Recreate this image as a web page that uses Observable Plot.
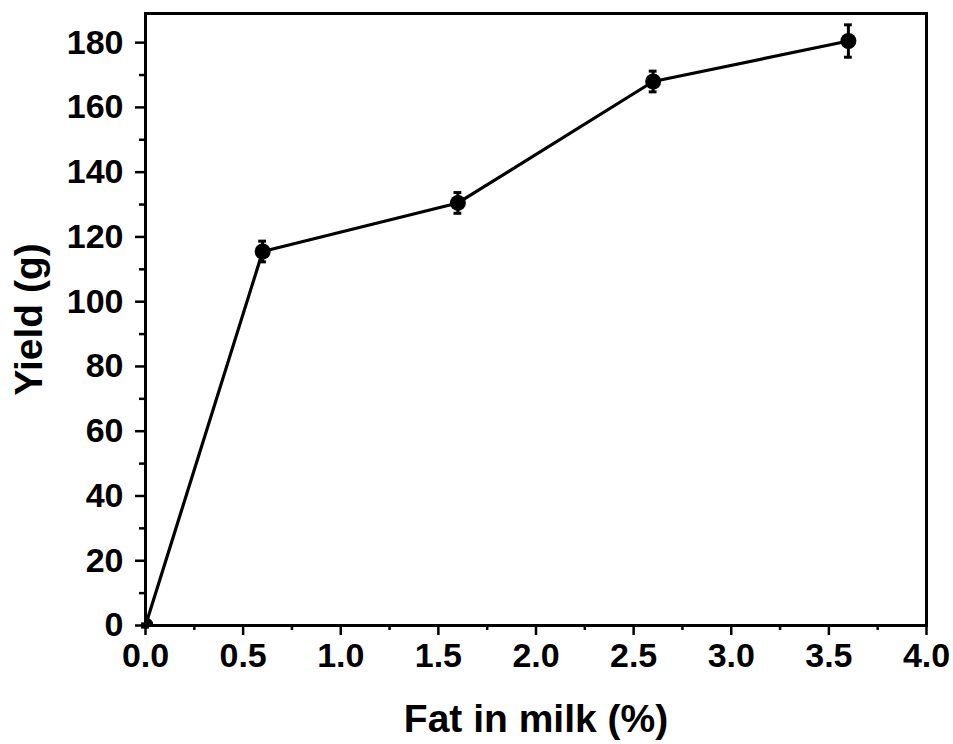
<!DOCTYPE html>
<html>
<head>
<meta charset="utf-8">
<script src="https://cdn.jsdelivr.net/npm/d3@7"></script>
<script src="https://cdn.jsdelivr.net/npm/@observablehq/plot@0.6"></script>
<style>
  html, body { margin: 0; padding: 0; background: #fff; }
  #chart svg { font-family: Arial, "Liberation Sans", sans-serif; font-weight: bold; }
  #chart g[aria-label="x-axis label"] text,
  #chart g[aria-label="y-axis label"] text { font-size: 39px; }
</style>
</head>
<body>
<div id="chart"></div>
<script>
// Data
const fat = [0, 0.6, 1.6, 2.6, 3.6];             // Fat in milk (%)
const yieldG = [0, 115.5, 130.5, 168, 180.5];    // Yield (g)
const errG = [0.5, 3.2, 3.2, 3.2, 5];             // error (±)

const xMajor = [0, 0.5, 1, 1.5, 2, 2.5, 3, 3.5, 4];
const xMinor = [0.25, 0.75, 1.25, 1.75, 2.25, 2.75, 3.25, 3.75];
const yMajor = [0, 20, 40, 60, 80, 100, 120, 140, 160, 180];
const yMinor = [10, 30, 50, 70, 90, 110, 130, 150, 170];

const data = fat.map((x, i) => ({x, y: yieldG[i], e: errG[i]}));
const capHalf = 0.02;
const noText = () => "";

const chart = Plot.plot({
  width: 953,
  height: 744,
  marginLeft: 145,
  marginRight: 27,
  marginTop: 13,
  marginBottom: 119,
  style: {fontSize: "34px", fontWeight: "bold", background: "#fff", color: "#000"},
  x: {domain: [0, 4]},
  y: {domain: [0, 189]},
  marks: [
    Plot.axisX({ticks: xMinor, tickSize: 5, strokeWidth: 2.5, tickFormat: noText, label: null}),
    Plot.axisX({ticks: xMajor, tickSize: 10, strokeWidth: 2.5, tickPadding: 7, tickFormat: d3.format(".1f"),
                label: "Fat in milk (%)", labelAnchor: "center", labelArrow: "none", labelOffset: 106}),
    Plot.axisY({ticks: yMinor, tickSize: 6, strokeWidth: 2.5, tickFormat: noText, label: null}),
    Plot.axisY({ticks: yMajor, tickSize: 10, strokeWidth: 2.5, tickPadding: 12, tickFormat: d3.format("d"),
                label: "Yield (g)", labelAnchor: "center", labelArrow: "none", labelOffset: 131}),
    Plot.frame({stroke: "#000", strokeWidth: 3}),
    Plot.line(data, {x: "x", y: "y", stroke: "#000", strokeWidth: 3.2}),
    Plot.ruleX(data, {x: "x", y1: d => d.y - d.e, y2: d => d.y + d.e, stroke: "#000", strokeWidth: 3}),
    Plot.ruleY(data, {y: d => d.y - d.e, x1: d => d.x - capHalf, x2: d => d.x + capHalf, stroke: "#000", strokeWidth: 3}),
    Plot.ruleY(data, {y: d => d.y + d.e, x1: d => d.x - capHalf, x2: d => d.x + capHalf, stroke: "#000", strokeWidth: 3}),
    Plot.dot(data, {x: "x", y: "y", r: 8, fill: "#000", stroke: "none", clip: true})
  ]
});
document.getElementById("chart").appendChild(chart);
</script>
</body>
</html>
